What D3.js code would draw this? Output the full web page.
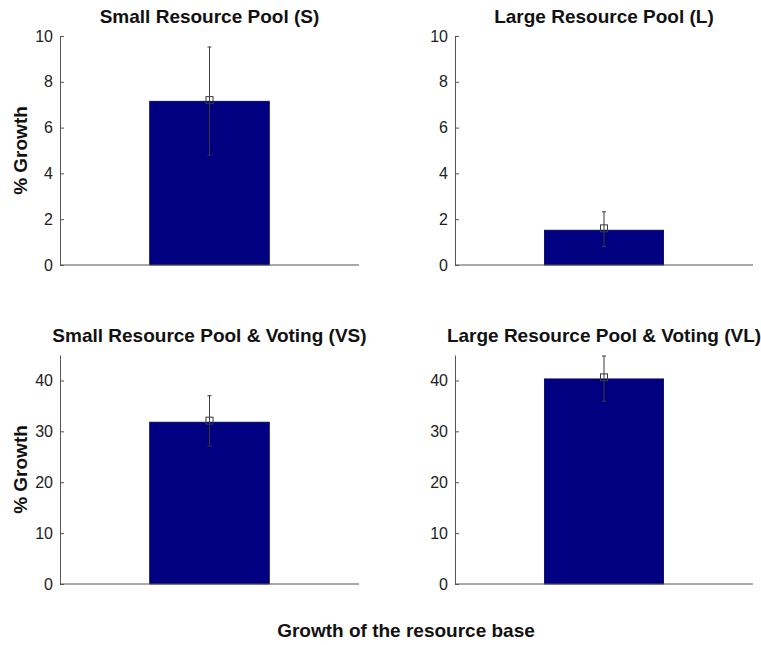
<!DOCTYPE html>
<html lang="en">
<head>
  <meta charset="UTF-8">
  <title>Growth of the resource base</title>
  <script src="https://d3js.org/d3.v7.min.js"></script>
  <style>
    body { margin: 0; background: #fff; }
    text { font-family: "Liberation Sans", Arial, Helvetica, sans-serif; }
  </style>
</head>
<body>
<div id="my_dataviz"></div>

<script>
  // panel data
  var titles = ["Small Resource Pool (S)", "Large Resource Pool (L)",
    "Small Resource Pool & Voting (VS)", "Large Resource Pool & Voting (VL)"];
  var barValues = [7.15, 1.52, 31.8, 40.3];
  var means = [7.2, 1.6, 32.1, 40.6];
  var errUpper = [9.52, 2.32, 37.0, 44.8];
  var errLower = [4.8, 0.8, 27.1, 35.9];
  var yMax = [10, 10, 45, 45];
  var yTicks = [[0, 2, 4, 6, 8, 10], [0, 2, 4, 6, 8, 10],
    [0, 10, 20, 30, 40], [0, 10, 20, 30, 40]];
  var showYLabel = [true, false, true, false];

  var width = 761, height = 645;

  // plot boxes (left, right, top, bottom) for the 2x2 grid
  var cols = [[60, 359], [455, 753]];
  var rows = [[36, 265], [355, 584]];

  var svg = d3.select("#my_dataviz")
    .append("svg")
    .attr("width", width)
    .attr("height", height);

  titles.forEach(function(title, i) {
    var c = cols[i % 2], r = rows[Math.floor(i / 2)];

    var x = d3.scaleLinear().domain([0, 2]).range(c);
    var y = d3.scaleLinear().domain([0, yMax[i]]).range([r[1], r[0]]);

    var g = svg.append("g");

    // bar
    g.append("rect")
      .attr("x", x(1 - 0.4))
      .attr("width", x(1.4) - x(0.6))
      .attr("y", y(barValues[i]))
      .attr("height", y(0) - y(barValues[i]))
      .style("fill", "#000080")
      .style("stroke", "#00005a")
      .style("stroke-width", 0.8);

    // error bar
    var eb = g.append("g").style("stroke", "#3a3a3a").style("stroke-width", 1).style("fill", "none");
    eb.append("line")
      .attr("x1", x(1)).attr("x2", x(1))
      .attr("y1", y(errLower[i])).attr("y2", y(errUpper[i]));
    [errLower[i], errUpper[i]].forEach(function(v) {
      eb.append("line")
        .attr("x1", x(1) - 2).attr("x2", x(1) + 2)
        .attr("y1", y(v)).attr("y2", y(v));
    });
    eb.append("rect")
      .attr("x", x(1) - 3.5).attr("y", y(means[i]) - 3.5)
      .attr("width", 7).attr("height", 7);

    // y axis, ticks pointing inward
    var yAxis = g.append("g")
      .attr("transform", "translate(" + c[0] + ",0)")
      .call(d3.axisLeft(y).tickValues(yTicks[i]).tickSizeInner(-4).tickSizeOuter(0).tickPadding(7));
    yAxis.selectAll("path, line").style("stroke", "#555");
    yAxis.selectAll("text").style("font-size", "16px").style("fill", "#222");

    // baseline
    g.append("line")
      .attr("x1", c[0]).attr("x2", c[1])
      .attr("y1", y(0)).attr("y2", y(0))
      .style("stroke", "#555");

    // title
    g.append("text")
      .attr("x", (c[0] + c[1]) / 2)
      .attr("y", r[0] - 13)
      .attr("text-anchor", "middle")
      .style("font-size", "19px")
      .style("font-weight", "bold")
      .style("fill", "#111")
      .text(title);

    if (showYLabel[i]) {
      g.append("text")
        .attr("transform", "translate(27," + (r[0] + r[1]) / 2 + ") rotate(-90)")
        .attr("text-anchor", "middle")
        .style("font-size", "19px")
        .style("font-weight", "bold")
        .style("fill", "#111")
        .text("% Growth");
    }
  });

  svg.append("text")
    .attr("x", 406)
    .attr("y", 637)
    .attr("text-anchor", "middle")
    .style("font-size", "19px")
    .style("font-weight", "bold")
    .style("fill", "#111")
    .text("Growth of the resource base");
</script>
</body>
</html>
